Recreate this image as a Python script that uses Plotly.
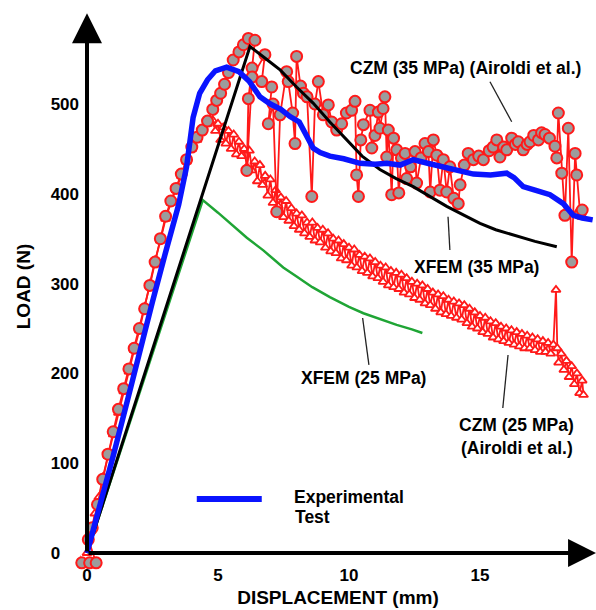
import plotly.graph_objects as go

# ---- Experimental test (load vs displacement) ----
exp_x = [0, 0.5, 1.0, 1.5, 2.0, 2.5, 3.0, 3.5, 3.8, 4.05, 4.3, 4.6, 4.9, 5.33, 5.8, 6.2,
         6.6, 7.0, 7.4, 7.75, 8.1, 8.38, 8.63, 8.9, 9.27, 9.8, 10.42, 11.0, 11.44, 11.95,
         12.45, 13.0, 13.73, 14.2, 14.75, 15.4, 16.02, 16.3, 16.65, 17.1, 17.67, 18.18,
         18.56, 18.9, 19.3]
exp_y = [0, 52, 108, 165, 224, 280, 335, 388, 430, 485, 512, 527, 537, 541, 536, 525,
         508, 500, 494, 486, 480, 466, 451, 446, 442, 439, 434, 433, 434, 432,
         438, 434, 429, 425, 422, 421, 423, 418, 408, 404, 399, 389,
         376, 373, 371]

# ---- XFEM, 35 MPa ----
xfem35_x = [0, 6.22, 6.8, 7.37, 8.0, 8.63, 9.27, 9.91, 10.5, 11.18, 11.8, 12.45, 13.1,
            13.73, 14.4, 15.0, 15.6, 16.26, 17.1, 17.93]
xfem35_y = [0, 564, 551, 538, 519, 501, 480, 460, 442, 427, 417, 408, 397,
            386, 376, 367, 360, 354, 347, 341]

# ---- XFEM, 25 MPa ----
xfem25_x = [0, 4.42, 5.0, 5.46, 6.1, 6.73, 7.49, 8.0, 8.6, 9.27, 10.0, 10.55, 11.2,
            11.82, 12.4, 12.8]
xfem25_y = [0, 393, 379, 367, 351, 337, 318, 308, 296, 285, 274, 267, 260,
            254, 249, 245]

# ---- CZM, 35 MPa (Airoldi et al.) ----
czm35_x = [-0.38, -0.2, 0.1, 0.35, 0.05, 0.2, 0.4, 0.6, 0.8, 1.0, 1.2, 1.4, 1.6, 1.8,
           2.0, 2.2, 2.4, 2.6, 2.8, 3.0, 3.2, 3.4, 3.6, 3.8, 4.0, 4.2, 4.4, 4.6, 4.8,
           4.95, 5.1, 5.25, 5.4, 5.58, 5.8, 5.97, 6.16, 6.41, 6.3, 6.16, 6.1, 6.3, 6.79,
           6.67, 7.05, 6.92, 7.1, 7.24, 7.37, 7.62, 7.68, 7.85, 7.94, 8.0, 8.15, 8.26,
           8.4, 8.58, 8.7, 8.83, 9.02, 9.21, 9.34, 9.53, 9.72, 9.9, 10.1, 10.23, 10.29,
           10.36, 10.45, 10.55, 10.8, 10.87, 10.99, 11.12, 11.18, 11.3, 11.37, 11.44,
           11.5, 11.63, 11.7, 11.82, 11.9, 12.0, 12.14, 12.2, 12.35, 12.52, 12.58,
           12.75, 12.9, 13.03, 13.1, 13.22, 13.35, 13.47, 13.6, 13.73, 13.85, 14.0,
           14.17, 14.24, 14.4, 14.55, 14.75, 14.95, 15.13, 15.35, 15.5, 15.64, 15.76,
           15.9, 16.02, 16.21, 16.35, 16.46, 16.65, 16.8, 16.91, 17.05, 17.23, 17.35,
           17.48, 17.65, 17.86, 17.93, 17.99, 18.12, 18.24, 18.37, 18.5, 18.63, 18.69,
           18.82, 18.9]
czm35_y = [5, -11, -11, -11, 15, 28, 54, 82, 110, 135, 160, 183, 205, 228,
           250, 272, 298, 324, 350, 375, 392, 406, 422, 438, 452, 463, 471, 481, 494,
           504, 512, 522, 535, 549, 558, 566, 573, 571, 540, 506, 426, 530, 555,
           525, 519, 478, 500, 380, 488, 536, 525, 490, 456, 553, 520, 512,
           508, 397, 500, 525, 488, 499, 480, 471, 478, 490, 493, 503, 421,
           397, 460, 477, 493, 451, 465, 491, 473, 495, 508, 441,
           471, 399, 462, 449, 401, 440, 445, 417, 430, 447, 412,
           440, 456, 447, 402, 460, 443, 404, 438, 402, 430, 395,
           389, 410, 432, 445, 438, 442, 438, 448, 452, 460, 441,
           452, 449, 462, 455, 458, 449, 455, 458, 465, 460, 468,
           466, 462, 453, 440, 490, 423, 376, 473, 324, 445, 421,
           378, 382]

# ---- CZM, 25 MPa (Airoldi et al.) ----
czm25_x = [0, 0.15, 0.3, 0.45, 0.6, 0.8, 1.0, 1.2, 1.4, 1.6, 1.8, 2.0, 2.2, 2.4, 2.6,
           2.8, 3.0, 3.2, 3.4, 3.6, 3.8, 4.0, 4.2, 4.4, 4.6,
           4.8, 4.9, 5.0, 5.1, 5.2, 5.3, 5.4, 5.5, 5.6, 5.7, 5.8, 5.9, 6.0, 6.1, 6.2,
           6.3, 6.4, 6.5, 6.6, 6.7, 6.8, 6.9, 7.0, 7.1, 7.2, 7.3, 7.4, 7.5, 7.6, 7.7,
           7.8, 7.9, 8.0, 8.1, 8.2, 8.3, 8.4, 8.5, 8.6, 8.7, 8.8, 8.9, 9.0, 9.1, 9.2,
           9.3, 9.4, 9.5, 9.6, 9.7, 9.8, 9.9, 10.0, 10.1, 10.2, 10.3, 10.4, 10.5, 10.6,
           10.7, 10.8, 10.9, 11.0, 11.1, 11.2, 11.3, 11.4, 11.5, 11.6, 11.7, 11.8, 11.9,
           12.0, 12.1, 12.2, 12.3, 12.4, 12.5, 12.6, 12.7, 12.8, 12.9, 13.0, 13.1, 13.2,
           13.3, 13.4, 13.5, 13.6, 13.7, 13.8, 13.9, 14.0, 14.1, 14.2, 14.3, 14.4, 14.5,
           14.6, 14.7, 14.8, 14.9, 15.0, 15.1, 15.2, 15.3, 15.4, 15.5, 15.6, 15.7, 15.8,
           15.9, 16.0, 16.1, 16.2, 16.3, 16.4, 16.5, 16.6, 16.7, 16.8, 16.9, 17.0, 17.1,
           17.2, 17.3, 17.4, 17.5, 17.6, 17.7, 17.8, 17.9, 17.95, 18.0, 18.1, 18.2, 18.3,
           18.4, 18.5, 18.6, 18.7, 18.8, 18.9, 18.95]
czm25_y = [0, 24, 44, 62, 84, 108, 132, 156, 180, 202, 226, 248, 274, 300, 326,
           348, 372, 390, 404, 420, 436, 450, 460, 470, 478,
           482, 470, 478, 460, 474, 456, 470, 450, 466, 444, 458, 442, 450, 430, 448,
           426, 436, 414, 432, 410, 420, 398, 416, 390, 404, 386, 396, 374, 392, 370,
           384, 364, 378, 360, 376, 356, 368, 352, 368, 348, 362, 346, 360, 340, 356,
           336, 350, 334, 348, 328, 344, 326, 340, 320, 338, 318, 332, 314, 330,
           312, 328, 308, 324, 306, 320, 302, 318, 298, 314, 296, 312, 294,
           310, 290, 306, 288, 302, 284, 300, 282, 298, 278, 294, 276, 290,
           272, 288, 268, 286, 266, 282, 264, 280, 262, 278, 260, 276, 256,
           272, 252, 268, 250, 264, 246, 262, 244, 258, 240, 256, 238, 252,
           236, 250, 234, 248, 232, 246, 230, 244, 228, 242, 228, 240, 226,
           238, 224, 236, 224, 234, 222, 232, 293, 228, 212, 222, 204, 214,
           196, 208, 188, 200, 178, 192, 176]

# axis ticks
x_ticks = [0, 5, 10, 15]
y_ticks = [0, 100, 200, 300, 400, 500]
y_tick_text = ["0\u00a0\u00a0\u00a0\u00a0", "100", "200", "300", "400", "500"]

RED = "#ff1a1a"
FONT = "Liberation Sans, Arial, sans-serif"

fig = go.Figure()

fig.add_trace(go.Scatter(
    x=czm25_x, y=czm25_y, mode="lines+markers", cliponaxis=False,
    line=dict(color=RED, width=1.8),
    marker=dict(symbol="triangle-up", size=8, color="white",
                line=dict(color=RED, width=1.8)),
    name="CZM (25 MPa)"))

fig.add_trace(go.Scatter(
    x=czm35_x, y=czm35_y, mode="lines+markers", cliponaxis=False,
    line=dict(color=RED, width=1.8),
    marker=dict(symbol="circle", size=11, color="#9c9c9c",
                line=dict(color=RED, width=2)),
    name="CZM (35 MPa)"))

fig.add_trace(go.Scatter(
    x=xfem25_x, y=xfem25_y, mode="lines", cliponaxis=False,
    line=dict(color="#1fa535", width=2.5), name="XFEM (25 MPa)"))

fig.add_trace(go.Scatter(
    x=xfem35_x, y=xfem35_y, mode="lines", cliponaxis=False,
    line=dict(color="black", width=3), name="XFEM (35 MPa)"))

fig.add_trace(go.Scatter(
    x=exp_x, y=exp_y, mode="lines", cliponaxis=False,
    line=dict(color="#0a14ff", width=5.5), name="Experimental Test"))

# legend sample line
fig.add_trace(go.Scatter(
    x=[4.19, 6.67], y=[60, 60], mode="lines", cliponaxis=False,
    line=dict(color="#0a14ff", width=6), showlegend=False, hoverinfo="skip"))

X_END, Y_END = 19.43, 601

annotations = [
    # axis arrows
    dict(x=X_END, y=0, ax=0, ay=0, xref="x", yref="y", axref="x", ayref="y",
         text="", showarrow=True, arrowhead=2, arrowsize=1.4, arrowwidth=4,
         arrowcolor="black"),
    dict(x=0, y=Y_END, ax=0, ay=0, xref="x", yref="y", axref="x", ayref="y",
         text="", showarrow=True, arrowhead=2, arrowsize=1.5, arrowwidth=4,
         arrowcolor="black"),
]

labels = [
    ("CZM (35 MPa) (Airoldi et al.)", 14.43, 540, "center"),
    ("XFEM (35 MPa)", 14.87, 319, "center"),
    ("XFEM (25 MPa)", 10.57, 195, "center"),
    ("CZM (25 MPa)", 16.41, 142.5, "center"),
    ("(Airoldi et al.)", 16.41, 117, "center"),
    ("Experimental", 7.81, 62.4, "left"),
    ("Test", 7.86, 40.1, "left"),
]
for txt, lx, ly, anc in labels:
    annotations.append(dict(x=lx, y=ly, xref="x", yref="y", text=txt,
                            showarrow=False, xanchor=anc, yanchor="middle",
                            font=dict(family=FONT, size=17.5, color="black",
                                      weight="bold")))

leaders = [
    ((15.38, 524.8), (16.21, 480.3)),
    ((13.78, 374.5), (13.85, 337.4)),
    ((10.52, 261.7), (10.76, 209.4)),
    ((16.07, 220.5), (15.87, 161.5)),
]
shapes = []
for (x0, y0), (x1, y1) in leaders:
    shapes.append(dict(type="line", xref="x", yref="y", x0=x0, y0=y0, x1=x1, y1=y1,
                       line=dict(color="#222222", width=1.3)))

fig.update_layout(
    width=596, height=610,
    margin=dict(l=80, r=0, t=10, b=47),
    paper_bgcolor="white", plot_bgcolor="white",
    showlegend=False,
    annotations=annotations,
    shapes=shapes,
    xaxis=dict(range=[-0.267, 19.427], showgrid=False, zeroline=False, showline=False,
               tickvals=x_ticks, ticks="",
               tickfont=dict(family=FONT, size=17, color="black", weight="bold"),
               title=dict(text="DISPLACEMENT (mm)", standoff=6,
                          font=dict(family=FONT, size=19, color="black", weight="bold"))),
    yaxis=dict(range=[-11.14, 604.7], showgrid=False, zeroline=False, showline=False,
               tickvals=y_ticks, ticktext=y_tick_text, ticks="",
               tickfont=dict(family=FONT, size=17, color="black", weight="bold"),
               title=dict(text="LOAD (N)", standoff=14,
                          font=dict(family=FONT, size=19, color="black", weight="bold"))),
)

fig.write_html("out.html")
